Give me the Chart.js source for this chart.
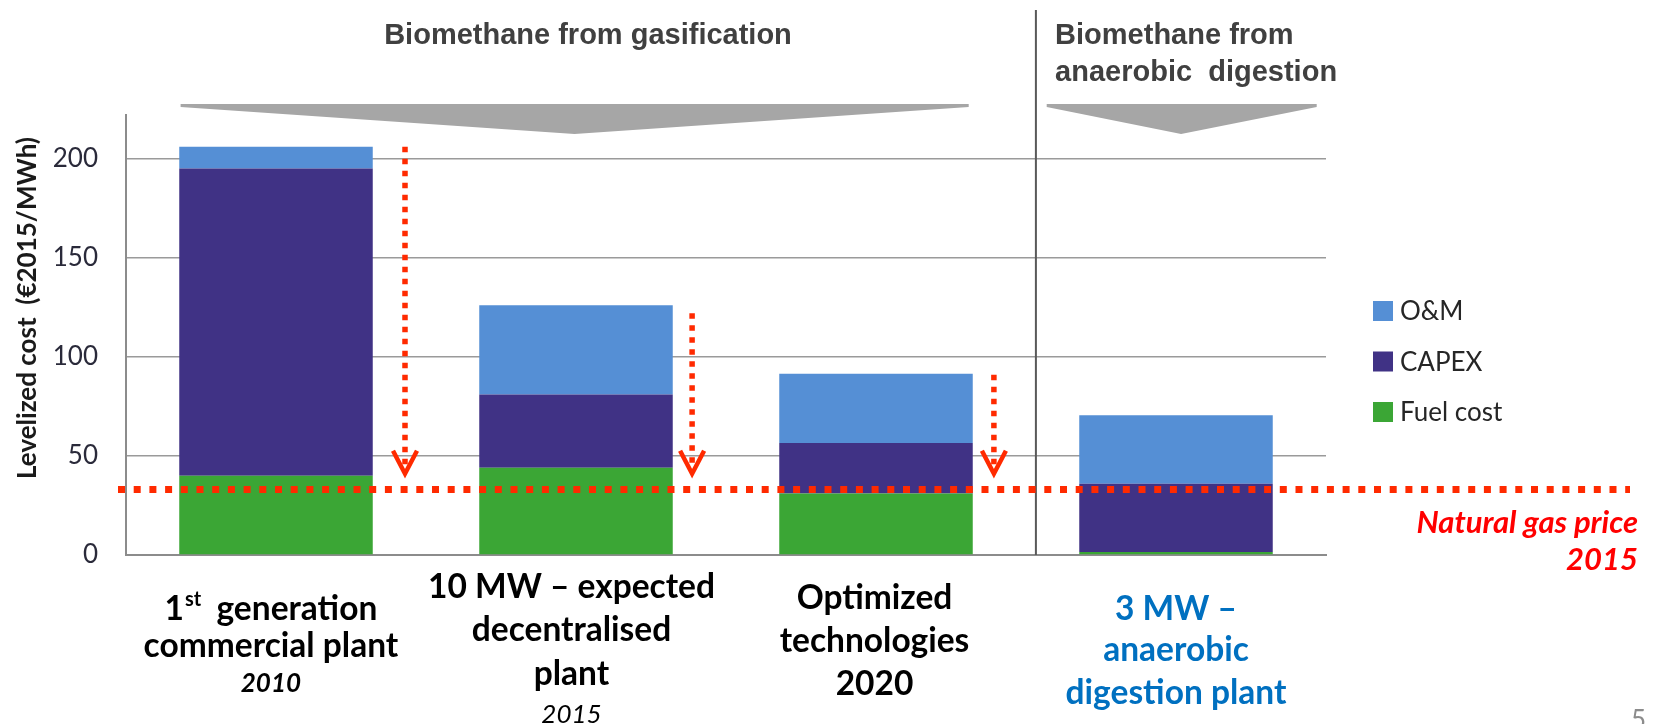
<!DOCTYPE html>
<html>
<head>
<meta charset="utf-8">
<title>Biomethane levelized cost</title>
<script src="https://cdn.jsdelivr.net/npm/chart.js@4.4.1/dist/chart.umd.min.js"></script>
<style>
    html, body { margin: 0; padding: 0; background: #fff; }
    #wrap { position: relative; width: 1656px; height: 724px; }
</style>
</head>
<body>
<div id="wrap"><canvas id="myChart"></canvas></div>
<script>
'use strict';

var categories = ['1st generation commercial plant', '10 MW - expected decentralised plant', 'Optimized technologies 2020', '3 MW - anaerobic digestion plant'];
var fuelCost = [40, 44, 31, 1.5];
var capex = [155, 37, 25.5, 34.5];
var om = [11, 45, 35, 34.5];
var gasPrice = 33;
var arrowFrom = [206, 122, 91];
var arrowTo = 39;

var yTitle = 'Levelized cost  (€2015/MWh)';
var groupTitles = ['Biomethane from gasification', 'Biomethane from\nanaerobic  digestion'];
var labelLines = [
    ['1st  generation', 'commercial plant'],
    ['10 MW \u2013 expected', 'decentralised', 'plant'],
    ['Optimized', 'technologies', '2020'],
    ['3 MW \u2013', 'anaerobic', 'digestion plant']
];
var labelYears = ['2010', '2015', '', ''];
var gasLabel = ['Natural gas price', '2015'];

var red = '#ff2a00';

function drawOrdinal(ctx, text, cx, cy, font, supFont) {
    var num = text.slice(0, 1), sup = text.slice(1, 3), rest = text.slice(3);
    ctx.font = font;
    var w1 = ctx.measureText(num).width, w3 = ctx.measureText(rest).width;
    ctx.font = supFont;
    var w2 = ctx.measureText(sup).width;
    var left = cx - (w1 + w2 + w3) / 2;
    ctx.textAlign = 'left';
    ctx.font = font;
    ctx.fillText(num, left, cy);
    ctx.font = supFont;
    ctx.fillText(sup, left + w1 + 1, cy - 9);
    ctx.font = font;
    ctx.fillText(rest, left + w1 + w2, cy);
}

var overlay = {
    id: 'overlay',

    beforeDatasetsDraw: function(chart) {
        var ctx = chart.ctx, x = chart.scales.x, area = chart.chartArea;
        ctx.save();
        // divider between the two groups
        var sx = x.getPixelForValue(2.533);
        ctx.strokeStyle = '#595959';
        ctx.lineWidth = 2;
        ctx.beginPath();
        ctx.moveTo(sx, 10);
        ctx.lineTo(sx, area.bottom);
        ctx.stroke();

        // grey chevrons under the group titles
        [[-0.318, 2.309, 0.995], [2.569, 3.469, 3.017]].forEach(function(t) {
            var l = x.getPixelForValue(t[0]), r = x.getPixelForValue(t[1]), m = x.getPixelForValue(t[2]);
            var top = area.top - 11;
            ctx.fillStyle = '#a6a6a6';
            ctx.beginPath();
            ctx.moveTo(l, top);
            ctx.lineTo(r, top);
            ctx.lineTo(r, top + 3);
            ctx.lineTo(m, top + 30);
            ctx.lineTo(l, top + 3);
            ctx.closePath();
            ctx.fill();
        });
        ctx.restore();
    },

    afterDatasetsDraw: function(chart) {
        var ctx = chart.ctx, x = chart.scales.x, y = chart.scales.y, area = chart.chartArea;
        var arrowShift = [0.43, 0.387, 0.393];
        ctx.save();
        ctx.strokeStyle = red;

        var gy = y.getPixelForValue(gasPrice);
        ctx.lineWidth = 7;
        ctx.setLineDash([7, 8.7]);
        ctx.beginPath();
        ctx.moveTo(area.left - 8, gy);
        ctx.lineTo(chart.width - 26, gy);
        ctx.stroke();

        arrowFrom.forEach(function(v, i) {
            var ax = x.getPixelForValue(i + arrowShift[i]);
            var y0 = y.getPixelForValue(v), y1 = y.getPixelForValue(arrowTo);
            ctx.lineWidth = 5.5;
            ctx.setLineDash([5.5, 6.5]);
            ctx.beginPath();
            ctx.moveTo(ax, y0);
            ctx.lineTo(ax, y1 - 6);
            ctx.stroke();
            ctx.setLineDash([]);
            ctx.lineWidth = 4.5;
            ctx.beginPath();
            ctx.moveTo(ax - 12, y1 - 27);
            ctx.lineTo(ax, y1 - 4);
            ctx.lineTo(ax + 12, y1 - 27);
            ctx.stroke();
        });
        ctx.restore();
    },

    afterDraw: function(chart) {
        var ctx = chart.ctx, x = chart.scales.x, y = chart.scales.y, area = chart.chartArea;
        ctx.save();
        ctx.textBaseline = 'middle';

        // y axis title
        ctx.save();
        ctx.translate(area.left - 98, (area.top + area.bottom) / 2 - 27);
        ctx.rotate(-Math.PI / 2);
        ctx.font = 'bold 26px Lato';
        ctx.fillStyle = '#1a1a1a';
        ctx.textAlign = 'center';
        ctx.fillText(yTitle, 0, 0);
        ctx.restore();

        // group titles
        ctx.fillStyle = '#404040';
        ctx.font = 'bold 29px "Liberation Sans"';
        ctx.textAlign = 'center';
        ctx.fillText(groupTitles[0], x.getPixelForValue(1.04), 36);
        ctx.textAlign = 'left';
        groupTitles[1].split('\n').forEach(function(line, j) {
            ctx.fillText(line, x.getPixelForValue(2.597), 36 + j * 37);
        });

        // legend
        var items = chart.data.datasets.slice().reverse();
        items.forEach(function(ds, j) {
            var ly = area.top + 196 + j * 50.5;
            ctx.fillStyle = ds.backgroundColor;
            ctx.fillRect(area.right + 47, ly - 10, 20, 20);
            ctx.fillStyle = '#262626';
            ctx.font = '26px Lato';
            ctx.textAlign = 'left';
            ctx.fillText(ds.label, area.right + 74, ly + 1);
        });

        // category labels
        var rows = [[54, 91, 129], [32, 75, 119, 160], [43, 86, 129], [54, 95, 138]];
        var shift = [-0.017, -0.015, -0.005, 0];
        var yearFonts = ['italic bold 26px Lato', 'italic 26px Lato'];
        var bold = 'bold 33.5px Lato';
        labelLines.forEach(function(lines, i) {
            var cx = x.getPixelForValue(i + shift[i]);
            ctx.fillStyle = i === 3 ? '#0070c0' : '#000';
            lines.forEach(function(line, j) {
                var ly = area.bottom + rows[i][j];
                if (line.indexOf('1st') === 0) {
                    drawOrdinal(ctx, line, cx, ly, bold, 'bold 20px Lato');
                } else {
                    ctx.font = bold;
                    ctx.textAlign = 'center';
                    ctx.fillText(line, cx, ly);
                }
            });
            if (labelYears[i]) {
                ctx.font = yearFonts[i];
                ctx.textAlign = 'center';
                ctx.fillText(labelYears[i], cx, area.bottom + rows[i][lines.length]);
            }
        });

        // gas price label
        var gy = y.getPixelForValue(gasPrice);
        ctx.fillStyle = '#ff0000';
        ctx.font = 'italic bold 31px Lato';
        ctx.textAlign = 'right';
        ctx.fillText(gasLabel[0], chart.width - 18, gy + 33);
        ctx.fillText(gasLabel[1], chart.width - 18, gy + 70);

        // slide number
        ctx.fillStyle = '#8c8c8c';
        ctx.font = '26px Lato';
        ctx.textAlign = 'left';
        ctx.textBaseline = 'top';
        ctx.fillText('5', chart.width - 25, chart.height - 16);
        ctx.restore();
    }
};

var canvas = document.getElementById('myChart');
var ctx = canvas.getContext('2d');
var myChart = new Chart(ctx, {
    type: 'bar',
    data: {
        labels: categories,
        datasets: [
            {label: 'Fuel cost', data: fuelCost, backgroundColor: '#3ba635'},
            {label: 'CAPEX', data: capex, backgroundColor: '#403285'},
            {label: 'O&M', data: om, backgroundColor: '#558fd5'}
        ]
    },
    options: {
        responsive: true,
        maintainAspectRatio: false,
        animation: false,
        devicePixelRatio: 1,
        layout: {padding: {top: 115, right: 330, bottom: 169, left: 0}},
        datasets: {bar: {barPercentage: 0.645, categoryPercentage: 1, borderWidth: 0}},
        plugins: {
            legend: {display: false},
            tooltip: {enabled: false}
        },
        scales: {
            x: {
                stacked: true,
                grid: {display: false, drawTicks: false},
                border: {display: true, color: '#8c8c8c', width: 2},
                ticks: {display: false},
                afterFit: function(scale) { scale.height = 0; }
            },
            y: {
                stacked: true,
                min: 0,
                max: 222,
                grid: {color: '#9a9a9a', lineWidth: 1.5, drawTicks: false},
                border: {color: '#8c8c8c', width: 2},
                ticks: {
                    stepSize: 50,
                    includeBounds: false,
                    padding: 28,
                    color: '#2a2a3a',
                    font: {family: 'Lato', size: 26}
                },
                afterFit: function(scale) { scale.width = 126; }
            }
        }
    },
    plugins: [overlay]
});
</script>
</body>
</html>
